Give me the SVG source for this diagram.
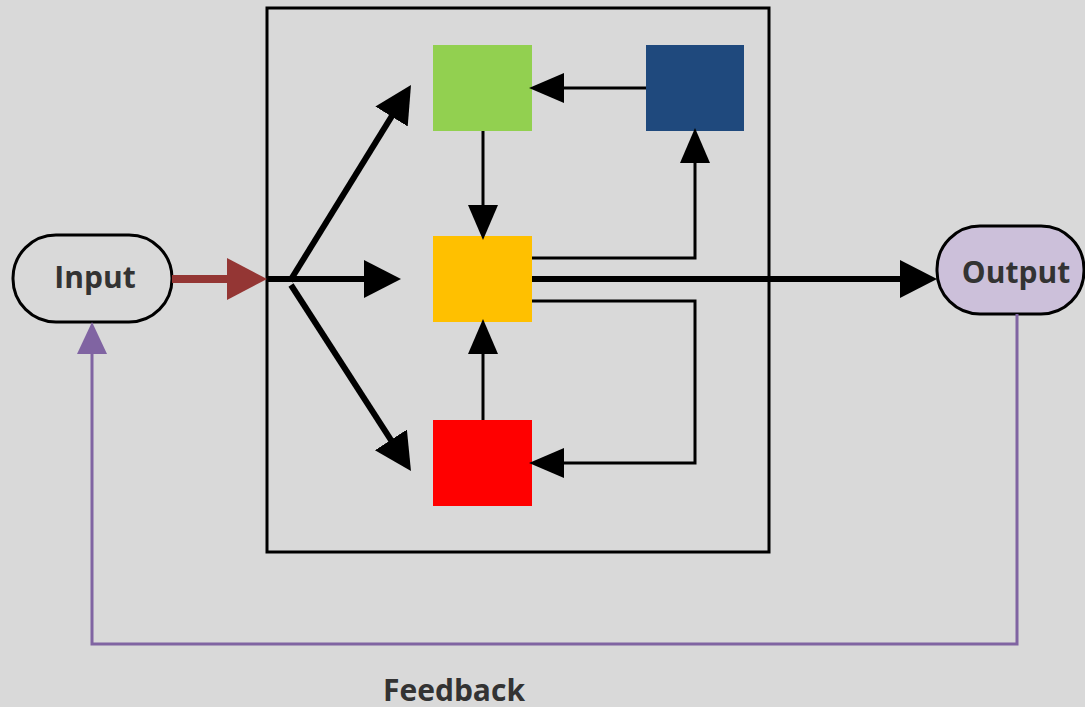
<svg xmlns="http://www.w3.org/2000/svg" width="1085" height="707" viewBox="0 0 1085 707">
<defs>
<style>
.lbl{font-family:"Open Sans","Noto Sans",sans-serif;font-weight:bold;font-size:30px;fill:#333333;text-anchor:middle}
.thin{fill:none;stroke:#000;stroke-width:3}
.thick{fill:none;stroke:#000;stroke-width:6}
</style>
<marker id="ah" markerUnits="userSpaceOnUse" markerWidth="36" markerHeight="30" refX="2" refY="15" orient="auto"><path d="M0,0 L35,15 L0,30 Z" fill="#000"/></marker>
<marker id="ahb" markerUnits="userSpaceOnUse" markerWidth="38" markerHeight="40" refX="2" refY="20" orient="auto"><path d="M0,1 L37,20 L0,39 Z" fill="#000"/></marker>
<marker id="ahr" markerUnits="userSpaceOnUse" markerWidth="40" markerHeight="44" refX="2" refY="22" orient="auto"><path d="M0,1 L40,22 L0,43 Z" fill="#943634"/></marker>
<marker id="ahp" markerUnits="userSpaceOnUse" markerWidth="32" markerHeight="34" refX="2" refY="15" orient="auto"><path d="M0,0 L32,15 L0,30 Z" fill="#8064a2"/></marker>
</defs>
<rect width="1085" height="707" fill="#d9d9d9"/>
<g id="frame"><rect x="267" y="8" width="502" height="544" fill="none" stroke="#000" stroke-width="3"/></g>
<g id="green"><rect x="433" y="45" width="99" height="86" fill="#92d050"/></g>
<g id="blue"><rect x="646" y="45" width="98" height="86" fill="#1f497d"/></g>
<g id="yellow"><rect x="433" y="236" width="99" height="86" fill="#ffc000"/></g>
<g id="red"><rect x="433" y="420" width="99" height="86" fill="#ff0000"/></g>
<g id="input"><rect x="13" y="235" width="159" height="87" rx="43" fill="#d9d9d9" stroke="#000" stroke-width="3"/><text class="lbl" x="95" y="288">Input</text></g>
<g id="output"><rect x="937" y="226" width="147" height="88" rx="43" fill="#ccc0da" stroke="#000" stroke-width="3"/><text class="lbl" x="1016" y="283">Output</text></g>
<g id="connectors">
<line x1="172" y1="279" x2="229" y2="279" stroke="#943634" stroke-width="8" marker-end="url(#ahr)"/>
<line x1="267" y1="279" x2="366" y2="279" class="thick" marker-end="url(#ahb)"/>
<line x1="290" y1="281" x2="392.6" y2="114.8" class="thick" marker-end="url(#ahb)"/>
<line x1="291" y1="285" x2="392" y2="441.6" class="thick" marker-end="url(#ahb)"/>
<line x1="646" y1="88" x2="562" y2="88" class="thin" marker-end="url(#ah)"/>
<line x1="483" y1="131" x2="483" y2="207" class="thin" marker-end="url(#ah)"/>
<polyline points="532,258 695,258 695,161" class="thin" marker-end="url(#ah)"/>
<line x1="532" y1="279" x2="902" y2="279" class="thick" marker-end="url(#ahb)"/>
<polyline points="532,301 695,301 695,463 562,463" class="thin" marker-end="url(#ah)"/>
<line x1="483" y1="420" x2="483" y2="352" class="thin" marker-end="url(#ah)"/>
<polyline points="1017,314 1017,644 92,644 92,352" fill="none" stroke="#8064a2" stroke-width="3" marker-end="url(#ahp)"/>
</g>
<text class="lbl" x="454" y="701">Feedback</text>
</svg>
